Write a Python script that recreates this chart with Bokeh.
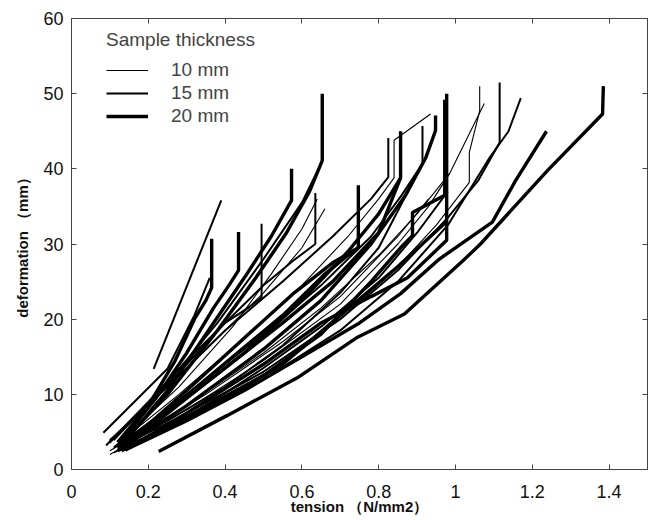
from bokeh.plotting import figure
from bokeh.models import (Range1d, FixedTicker, NumeralTickFormatter, LinearAxis, Legend,
                          LegendItem, CustomJSTickFormatter)
from bokeh.embed import file_html
from bokeh.resources import INLINE

# ---------------- data ----------------
x_ticks = [0, 0.2, 0.4, 0.6, 0.8, 1, 1.2, 1.4]
y_ticks = [0, 10, 20, 30, 40, 50, 60]
legend_labels = ["10 mm", "15 mm", "20 mm"]

# 10 mm samples
s10_h_x = [0.10, 0.25, 0.40, 0.50, 0.60, 0.66]
s10_h_y = [3.5, 11.0, 18.5, 23.5, 29.5, 34.7]
s10_l_x = [0.11, 0.28, 0.45, 0.60, 0.72, 0.80, 0.84, 0.84, 0.935]
s10_l_y = [3.0, 10.0, 17.5, 24.5, 31.0, 36.0, 38.8, 43.8, 47.3]
s10_q_x = [0.11, 0.30, 0.50, 0.70, 0.85, 0.95, 1.036, 1.036, 1.063, 1.063]
s10_q_y = [2.2, 7.2, 13.0, 20.0, 27.0, 32.5, 38.2, 42.2, 47.7, 51.0]
s10_r_x = [0.10, 0.30, 0.50, 0.70, 0.85, 0.93, 0.985, 1.075]
s10_r_y = [2.0, 8.0, 14.5, 22.0, 30.0, 35.0, 39.4, 48.7]
s10_x2_x = [0.12, 0.28, 0.42, 0.52, 0.60, 0.64]
s10_x2_y = [3.4, 11.0, 19.0, 26.0, 32.0, 36.0]
s10_x4_x = [0.10, 0.30, 0.50, 0.65, 0.80, 0.90, 0.985]
s10_x4_y = [2.5, 8.5, 15.5, 21.5, 28.5, 34.0, 39.4]
s10_x5_x = [0.13, 0.35, 0.55, 0.70, 0.85, 0.93]
s10_x5_y = [3.0, 10.0, 17.0, 23.0, 31.0, 36.0]

# 15 mm samples
s15_a_x = [0.214, 0.39]
s15_a_y = [13.4, 35.8]
s15_lm_x = [0.083, 0.25, 0.32, 0.36]
s15_lm_y = [4.9, 13.4, 20.5, 25.5]
s15_f_x = [0.09, 0.20, 0.30, 0.40, 0.46, 0.495, 0.495]
s15_f_y = [3.2, 9.0, 14.5, 19.5, 21.5, 22.9, 32.7]
s15_g_x = [0.10, 0.20, 0.30, 0.40, 0.50, 0.578, 0.635, 0.635]
s15_g_y = [3.8, 8.5, 14.0, 19.5, 24.5, 27.8, 30.0, 36.8]
s15_x1_x = [0.11, 0.25, 0.38, 0.50, 0.60, 0.648]
s15_x1_y = [3.9, 11.5, 19.5, 28.0, 35.5, 40.5]
s15_j_x = [0.10, 0.25, 0.40, 0.55, 0.68, 0.78, 0.825, 0.825]
s15_j_y = [3.9, 11.0, 18.5, 25.0, 31.0, 36.0, 38.9, 44.1]
s15_m_x = [0.12, 0.30, 0.50, 0.65, 0.78, 0.86, 0.914, 0.914]
s15_m_y = [3.1, 10.0, 18.0, 24.5, 31.0, 36.5, 40.7, 45.7]
s15_x8_x = [0.11, 0.25, 0.40, 0.55, 0.70, 0.80, 0.914]
s15_x8_y = [2.9, 6.5, 11.0, 16.5, 23.5, 29.5, 40.7]
s15_x11_x = [0.14, 0.32, 0.50, 0.65, 0.80, 0.90, 0.98]
s15_x11_y = [2.7, 7.5, 13.5, 19.0, 25.5, 31.5, 37.0]
s15_s_x = [0.12, 0.30, 0.50, 0.70, 0.85, 0.98, 1.06, 1.115, 1.115]
s15_s_y = [2.8, 7.5, 13.0, 20.0, 26.5, 33.5, 38.5, 43.5, 51.5]
s15_t_x = [0.13, 0.30, 0.50, 0.70, 0.85, 0.98, 1.089, 1.138, 1.17]
s15_t_y = [2.6, 7.0, 12.0, 18.5, 25.0, 32.5, 41.5, 45.0, 49.4]

# 20 mm samples
s20_b_x = [0.12, 0.20, 0.27, 0.32, 0.35, 0.365, 0.365]
s20_b_y = [3.6, 8.5, 14.5, 20.0, 22.5, 24.2, 30.7]
s20_c_x = [0.13, 0.22, 0.30, 0.37, 0.41, 0.435, 0.435]
s20_c_y = [3.8, 9.5, 15.5, 21.5, 24.5, 26.5, 31.6]
s20_d_x = [0.13, 0.25, 0.35, 0.45, 0.52, 0.573, 0.573]
s20_d_y = [3.2, 10.5, 18.0, 25.5, 31.0, 35.8, 40.0]
s20_e_x = [0.12, 0.25, 0.38, 0.48, 0.56, 0.62, 0.653, 0.653]
s20_e_y = [3.0, 10.0, 18.5, 25.5, 31.5, 37.0, 41.1, 50.0]
s20_i_x = [0.14, 0.30, 0.45, 0.58, 0.68, 0.747, 0.747]
s20_i_y = [3.3, 10.5, 17.5, 23.5, 27.5, 29.5, 37.8]
s20_x9_x = [0.13, 0.28, 0.42, 0.55, 0.66, 0.72, 0.747]
s20_x9_y = [3.4, 9.0, 15.0, 20.5, 26.0, 28.5, 29.5]
s20_k_x = [0.14, 0.30, 0.45, 0.60, 0.72, 0.80, 0.857, 0.857]
s20_k_y = [3.0, 9.5, 15.5, 22.5, 29.0, 34.0, 38.8, 45.0]
s20_x10_x = [0.12, 0.26, 0.40, 0.55, 0.68, 0.80, 0.857]
s20_x10_y = [3.1, 8.0, 13.5, 19.5, 25.0, 31.5, 38.8]
s20_n_x = [0.13, 0.30, 0.50, 0.65, 0.78, 0.87, 0.922, 0.948, 0.948]
s20_n_y = [2.8, 8.5, 16.0, 22.5, 30.0, 36.5, 41.4, 45.1, 47.1]
s20_o_x = [0.14, 0.30, 0.50, 0.65, 0.78, 0.875, 0.977, 0.977]
s20_o_y = [2.6, 7.5, 14.0, 19.5, 23.0, 25.5, 30.5, 50.0]
s20_p_x = [0.13, 0.30, 0.50, 0.65, 0.78, 0.857, 0.888, 0.888, 0.972, 0.972]
s20_p_y = [2.5, 7.0, 12.5, 18.0, 25.0, 29.5, 31.1, 34.2, 36.5, 49.2]
s20_x7_x = [0.12, 0.25, 0.40, 0.55, 0.70, 0.85, 0.977]
s20_x7_y = [2.5, 5.5, 9.5, 14.0, 20.5, 27.0, 33.0]
s20_u_x = [0.14, 0.30, 0.45, 0.60, 0.75, 0.857, 0.958, 1.096, 1.156, 1.237]
s20_u_y = [2.6, 6.5, 10.5, 15.0, 19.5, 23.4, 28.0, 32.9, 38.4, 45.0]
s20_v_x = [0.227, 0.406, 0.588, 0.745, 0.867, 1.02, 1.065, 1.24, 1.383, 1.385]
s20_v_y = [2.4, 7.2, 12.2, 17.6, 20.7, 27.8, 30.0, 39.8, 47.3, 51.0]

xs10 = [s10_h_x, s10_l_x, s10_q_x, s10_r_x, s10_x2_x, s10_x4_x, s10_x5_x]
ys10 = [s10_h_y, s10_l_y, s10_q_y, s10_r_y, s10_x2_y, s10_x4_y, s10_x5_y]
xs15 = [s15_a_x, s15_lm_x, s15_f_x, s15_g_x, s15_x1_x, s15_j_x, s15_m_x, s15_x8_x, s15_x11_x,
        s15_s_x, s15_t_x]
ys15 = [s15_a_y, s15_lm_y, s15_f_y, s15_g_y, s15_x1_y, s15_j_y, s15_m_y, s15_x8_y, s15_x11_y,
        s15_s_y, s15_t_y]
xs20 = [s20_b_x, s20_c_x, s20_d_x, s20_e_x, s20_i_x, s20_x9_x, s20_k_x, s20_x10_x, s20_n_x,
        s20_o_x, s20_p_x, s20_x7_x, s20_u_x, s20_v_x]
ys20 = [s20_b_y, s20_c_y, s20_d_y, s20_e_y, s20_i_y, s20_x9_y, s20_k_y, s20_x10_y, s20_n_y,
        s20_o_y, s20_p_y, s20_x7_y, s20_u_y, s20_v_y]

# ---------------- figure ----------------
FONT = "Liberation Sans"
AXIS_COL = "#444444"

p = figure(frame_width=576, frame_height=451,
           min_border_left=71, min_border_right=5, min_border_top=18, min_border_bottom=43,
           x_range=Range1d(0, 1.5), y_range=Range1d(0, 60),
           output_backend="svg", toolbar_location=None, tools="")
p.xgrid.visible = False
p.ygrid.visible = False
p.outline_line_color = AXIS_COL
p.outline_line_width = 1
p.background_fill_color = "white"
p.border_fill_color = "white"

def style_axis(ax, ticks, show_labels=True):
    ax.ticker = FixedTicker(ticks=ticks)
    ax.major_tick_in = 5
    ax.major_tick_out = 0
    ax.minor_tick_line_color = None
    ax.axis_line_color = AXIS_COL
    ax.major_tick_line_color = AXIS_COL
    if show_labels:
        ax.major_label_text_font = FONT
        ax.major_label_text_font_size = "18px"
        ax.major_label_text_color = "#111111"
    else:
        ax.formatter = CustomJSTickFormatter(code="return ''")
        ax.major_label_text_color = None
        ax.major_label_standoff = 0

style_axis(p.xaxis[0], x_ticks)
style_axis(p.yaxis[0], y_ticks)
p.xaxis[0].formatter = NumeralTickFormatter(format="0.[0]")
p.xaxis[0].major_label_standoff = 15
p.yaxis[0].major_label_standoff = 8

p.xaxis[0].axis_label = "tension （N/mm2）"
p.yaxis[0].axis_label = "deformation （mm）"
for ax in (p.xaxis[0], p.yaxis[0]):
    ax.axis_label_text_font = FONT
    ax.axis_label_text_font_size = "15px"
    ax.axis_label_text_font_style = "bold"
    ax.axis_label_text_color = "#111111"
p.xaxis[0].axis_label_standoff = -3
p.yaxis[0].axis_label_standoff = 9

top_ax = LinearAxis()
style_axis(top_ax, x_ticks, show_labels=False)
p.add_layout(top_ax, "above")
right_ax = LinearAxis()
style_axis(right_ax, y_ticks, show_labels=False)
p.add_layout(right_ax, "right")

r10 = p.multi_line(xs=xs10, ys=ys10, line_color="black", line_width=1.1)
r15 = p.multi_line(xs=xs15, ys=ys15, line_color="black", line_width=2.0)
r20 = p.multi_line(xs=xs20, ys=ys20, line_color="black", line_width=3.4)

legend = Legend(items=[LegendItem(label=legend_labels[0], renderers=[r10]),
                       LegendItem(label=legend_labels[1], renderers=[r15]),
                       LegendItem(label=legend_labels[2], renderers=[r20])],
                location=(35, 342), title="Sample thickness",
                title_text_font=FONT, title_text_font_size="19px", title_text_font_style="normal",
                title_standoff=8,
                label_text_font=FONT, label_text_font_size="19px",
                label_standoff=23, glyph_width=42, glyph_height=20, label_height=20,
                spacing=1, padding=10, border_line_color=None, background_fill_alpha=0)
p.add_layout(legend, "center")

open("out.html", "w").write(file_html(p, INLINE))
